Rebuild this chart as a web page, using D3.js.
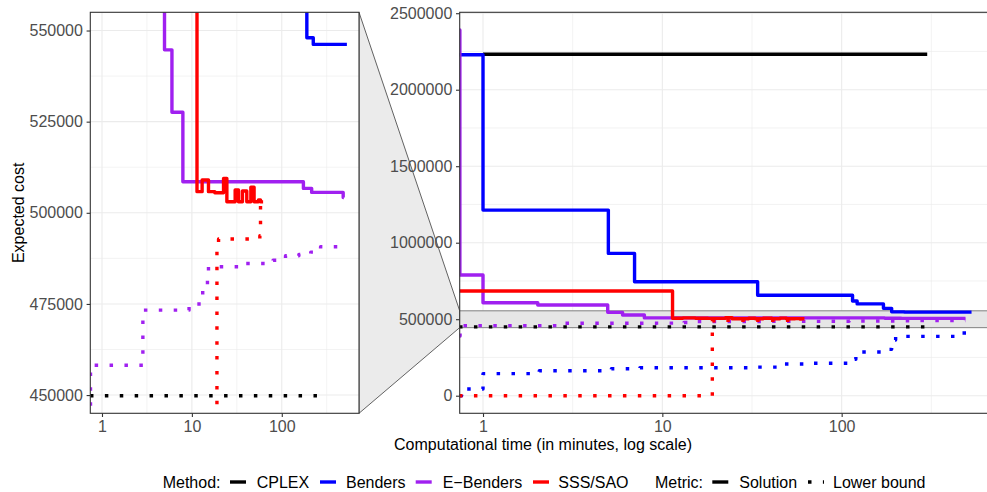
<!DOCTYPE html>
<html>
<head>
<meta charset="utf-8">
<title>Expected cost vs computational time</title>
<script src="https://d3js.org/d3.v7.min.js"></script>
<style>
  body { margin: 0; background: #fff; }
  text { font-family: "Liberation Sans", Arial, sans-serif; }
</style>
</head>
<body>
<svg id="chart" width="987" height="492"></svg>
<script>
// ---- data ----
var methods = ["CPLEX", "Benders", "E\u2212Benders", "SSS/SAO"];
var metrics = ["Solution", "Lower bound"];
var methodColors = ["#000000", "#0000FF", "#A020F0", "#FF0000"];

// step curves: time (minutes) and expected cost
var cplexSolT = [1.0, 300];
var cplexSolV = [2232000, 2232000];
var cplexLbT = [0.735, 300];
var cplexLbV = [449800, 449800];

var bendersSolT = [0.735, 1.0, 5.0, 7.0, 34, 115, 122, 171, 190, 224, 530];
var bendersSolV = [2229000, 1213000, 930000, 745000, 657000, 619000, 600000, 571000, 548000, 546200, 546200];
var bendersLbT = [0.735, 0.76, 1.0, 2.06, 5.2, 7.5, 34, 45, 65, 110, 120, 170, 190, 200, 463, 555];
var bendersLbV = [0, 44000, 144000, 163000, 176500, 183000, 187000, 207000, 212000, 238000, 286000, 303000, 364000, 388000, 410000, 410000];

var ebendersSolT = [0.73, 0.743, 1.0, 2.02, 4.96, 6.0, 7.94, 174, 215, 482, 490];
var ebendersSolV = [2390000, 789000, 608000, 593000, 544700, 527600, 508500, 506700, 505600, 504200, 504200];
var ebendersLbT = [0.735, 0.745, 2.85, 9.3, 12.0, 13.2, 14.9, 15.3, 40, 80, 110, 155, 210, 270, 490];
var ebendersLbV = [390000, 458200, 473300, 474400, 475600, 478600, 481400, 485200, 486100, 487000, 488200, 488600, 489200, 490700, 490700];

var sssSolT = [0.735, 11.4, 13.0, 15.3, 18, 22.5, 24.5, 30.3, 33.0, 36.5, 40.8, 45.3, 49.2, 55, 58, 62];
var sssSolV = [684000, 505800, 509000, 505800, 505500, 509400, 503050, 506250, 503050, 506000, 503050, 507000, 503050, 503500, 503000, 503000];
var sssLbT = [0.735, 19.0, 19.8, 57, 58, 60];
var sssLbV = [0, 489500, 492800, 493700, 502500, 502500];

// axes
var xTicks = [1, 10, 100];
var xMinorTicks = [Math.pow(10, -0.5), Math.pow(10, 0.5), Math.pow(10, 1.5), Math.pow(10, 2.5)];
var xDomain = [Math.pow(10, -0.13), Math.pow(10, 2.859)];
var zoomTicks = [450000, 475000, 500000, 525000, 550000];
var zoomMinorTicks = [462500, 487500, 512500, 537500];
var zoomDomain = [445000, 555000];
var fullTicks = [0, 500000, 1000000, 1500000, 2000000, 2500000];
var fullMinorTicks = [250000, 750000, 1250000, 1750000, 2250000];
var fullDomain = [-115000, 2506000];

var series = [
  { m: 0, k: 0, t: cplexSolT, v: cplexSolV },
  { m: 0, k: 1, t: cplexLbT, v: cplexLbV },
  { m: 1, k: 0, t: bendersSolT, v: bendersSolV },
  { m: 1, k: 1, t: bendersLbT, v: bendersLbV },
  { m: 2, k: 0, t: ebendersSolT, v: ebendersSolV },
  { m: 2, k: 1, t: ebendersLbT, v: ebendersLbV },
  { m: 3, k: 0, t: sssSolT, v: sssSolV },
  { m: 3, k: 1, t: sssLbT, v: sssLbV }
];

// ---- layout ----
var svg = d3.select("#chart");
var defs = svg.append("defs");
var leftP = { x0: 90.3, x1: 359, y0: 12.3, y1: 413.3 };
var rightP = { x0: 459.7, x1: 995.7, y0: 12.3, y1: 413.3 };
var LW = 3.4, DOTS = "3.5 11.4";
var gridCol = "#EBEBEB";

function styleLine(sel, s) {
  sel.attr("fill", "none")
    .attr("stroke", methodColors[s.m])
    .attr("stroke-width", LW)
    .attr("stroke-linejoin", "round")
    .attr("stroke-linecap", "butt")
    .attr("stroke-dasharray", s.k === 1 ? DOTS : null);
}

function drawPanel(p, yDomain, yTicks, yMinor, id, band) {
  var x = d3.scaleLog().domain(xDomain).range([p.x0, p.x1]);
  var y = d3.scaleLinear().domain(yDomain).range([p.y1, p.y0]);
  var g = svg.append("g");
  g.append("rect").attr("x", p.x0).attr("y", p.y0)
    .attr("width", p.x1 - p.x0).attr("height", p.y1 - p.y0).attr("fill", "#fff");

  defs.append("clipPath").attr("id", id).append("rect")
    .attr("x", p.x0).attr("y", p.y0).attr("width", p.x1 - p.x0).attr("height", p.y1 - p.y0);
  var inner = g.append("g").attr("clip-path", "url(#" + id + ")");

  // grid
  inner.selectAll(".gxm").data(xMinorTicks).enter().append("line")
    .attr("x1", d => x(d)).attr("x2", d => x(d)).attr("y1", p.y0).attr("y2", p.y1)
    .attr("stroke", gridCol).attr("stroke-width", 0.6);
  inner.selectAll(".gym").data(yMinor).enter().append("line")
    .attr("y1", d => y(d)).attr("y2", d => y(d)).attr("x1", p.x0).attr("x2", p.x1)
    .attr("stroke", gridCol).attr("stroke-width", 0.6);
  inner.selectAll(".gx").data(xTicks).enter().append("line")
    .attr("x1", d => x(d)).attr("x2", d => x(d)).attr("y1", p.y0).attr("y2", p.y1)
    .attr("stroke", gridCol).attr("stroke-width", 1.1);
  inner.selectAll(".gy").data(yTicks).enter().append("line")
    .attr("y1", d => y(d)).attr("y2", d => y(d)).attr("x1", p.x0).attr("x2", p.x1)
    .attr("stroke", gridCol).attr("stroke-width", 1.1);

  if (band) {
    inner.append("rect").attr("x", p.x0 - 2).attr("width", p.x1 - p.x0 + 4)
      .attr("y", y(zoomDomain[1])).attr("height", y(zoomDomain[0]) - y(zoomDomain[1]))
      .attr("fill", "#E6E6E6").attr("stroke", "#8a8a8a").attr("stroke-width", 1.1);
  }

  var line = d3.line().curve(d3.curveStepAfter).x(d => x(d[0])).y(d => y(d[1]));
  series.forEach(function (s) {
    inner.append("path").datum(d3.zip(s.t, s.v)).attr("d", line).call(styleLine, s);
  });

  g.append("rect").attr("x", p.x0).attr("y", p.y0)
    .attr("width", p.x1 - p.x0).attr("height", p.y1 - p.y0)
    .attr("fill", "none").attr("stroke", "#333").attr("stroke-width", 1.1);

  var ay = g.append("g").attr("transform", "translate(" + p.x0 + ",0)")
    .call(d3.axisLeft(y).tickValues(yTicks).tickSize(3.7).tickPadding(3.7).tickFormat(d3.format("d")));
  var ax = g.append("g").attr("transform", "translate(0," + p.y1 + ")")
    .call(d3.axisBottom(x).tickValues(xTicks).tickSize(3.7).tickPadding(3.5).tickFormat(d3.format("d")));
  [ax, ay].forEach(function (a) {
    a.select(".domain").remove();
    a.selectAll(".tick line").attr("stroke", "#333").attr("stroke-width", 1.1);
    a.selectAll(".tick text").attr("fill", "#4D4D4D").style("font-size", "16px")
      .style("font-family", '"Liberation Sans", Arial, sans-serif');
  });
  return { x: x, y: y };
}

// zoom trapezoid between panels
var yFull = d3.scaleLinear().domain(fullDomain).range([rightP.y1, rightP.y0]);
svg.append("polygon")
  .attr("points", [[leftP.x1, leftP.y0], [rightP.x0, yFull(zoomDomain[1])],
                   [rightP.x0, yFull(zoomDomain[0])], [leftP.x1, leftP.y1]].map(d => d.join(",")).join(" "))
  .attr("fill", "#EBEBEB").attr("stroke", "#222").attr("stroke-width", 0.7);

drawPanel(leftP, zoomDomain, zoomTicks, zoomMinorTicks, "clipL", false);
drawPanel(rightP, fullDomain, fullTicks, fullMinorTicks, "clipR", true);

// axis titles
svg.append("text").attr("x", (leftP.x0 + rightP.x1) / 2).attr("y", 450)
  .attr("text-anchor", "middle").style("font-size", "16px").attr("fill", "#000")
  .text("Computational time (in minutes, log scale)");
svg.append("text").attr("transform", "translate(24," + ((leftP.y0 + leftP.y1) / 2) + ") rotate(-90)")
  .attr("text-anchor", "middle").style("font-size", "16px").attr("fill", "#000")
  .text("Expected cost");

// legend
var leg = svg.append("g");
var legY = 482, legBase = 487.5;
function legText(x, s) {
  leg.append("text").attr("x", x).attr("y", legBase).style("font-size", "16px").attr("fill", "#000").text(s);
}
legText(162.7, "Method:");
var methodKeyX = [230, 320, 415.7, 533];
var methodLabelX = [256.7, 346, 442.7, 558.3];
methods.forEach(function (m, i) {
  leg.append("line").attr("x1", methodKeyX[i]).attr("x2", methodKeyX[i] + 16)
    .attr("y1", legY).attr("y2", legY).call(styleLine, { m: i, k: 0 });
  legText(methodLabelX[i], m);
});
legText(655, "Metric:");
var metricKeyX = [712.3, 808];
var metricLabelX = [739.3, 833];
metrics.forEach(function (m, i) {
  leg.append("line").attr("x1", metricKeyX[i]).attr("x2", metricKeyX[i] + 16)
    .attr("y1", legY).attr("y2", legY).call(styleLine, { m: 0, k: i });
  legText(metricLabelX[i], m);
});
</script>
</body>
</html>
